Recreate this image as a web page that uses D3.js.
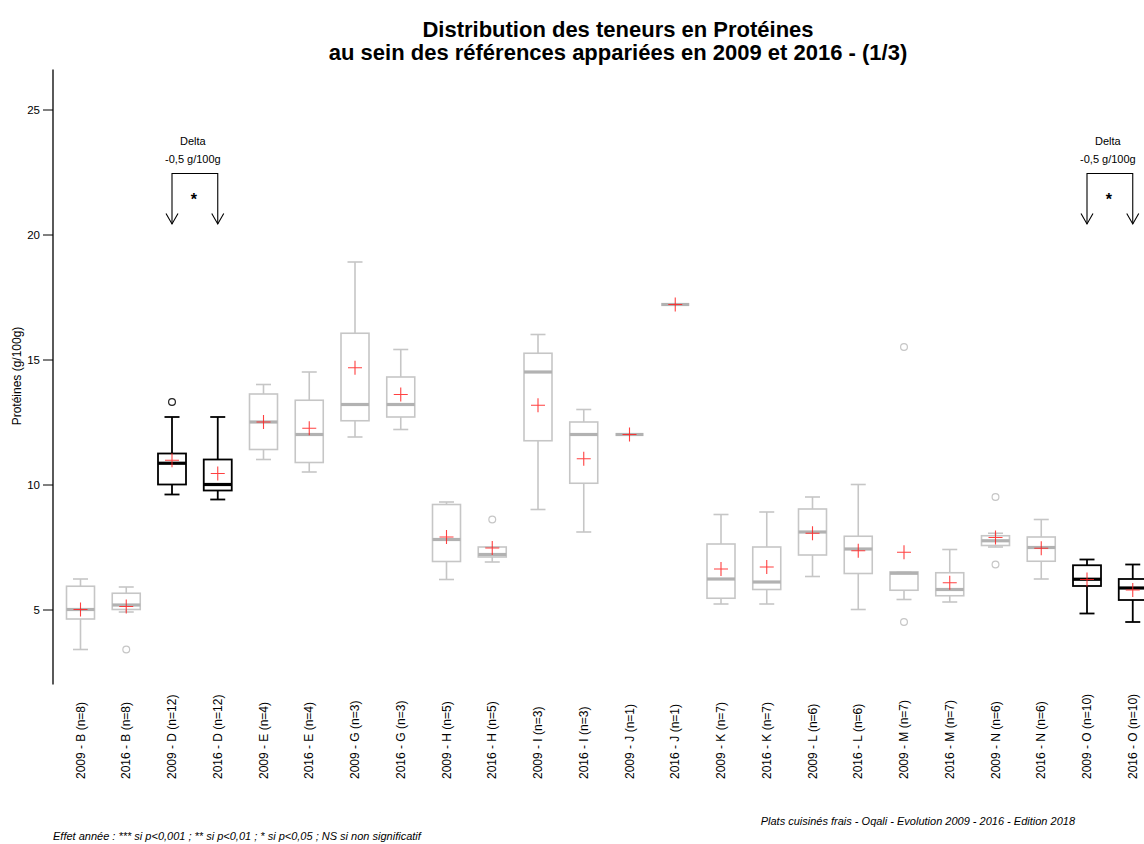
<!DOCTYPE html>
<html>
<head>
<meta charset="utf-8">
<script src="https://cdn.jsdelivr.net/npm/d3@7"></script>
<style>
  html, body { margin: 0; padding: 0; background: #fff; }
  svg { display: block; font-family: "Liberation Sans", Arial, sans-serif; }
</style>
</head>
<body>
<svg id="chart" width="1144" height="844"></svg>
<script>
// Protein content (g/100g) per product family, paired references 2009 vs 2016
const families = ["B","B","D","D","E","E","G","G","H","H","I","I","J","J","K","K","L","L","M","M","N","N","O","O"];
const years    = [2009,2016,2009,2016,2009,2016,2009,2016,2009,2016,2009,2016,2009,2016,2009,2016,2009,2016,2009,2016,2009,2016,2009,2016];
const counts   = [8,8,12,12,4,4,3,3,5,5,3,3,1,1,7,7,6,6,7,7,6,6,10,10];

const whiskerLow  = [3.4, 4.9, 9.6, 9.4, 11.0,10.5,11.9,12.2,6.2, 6.9, 9.0, 8.1, 12.0,17.2,5.22,5.22,6.32,5.0, 5.4, 5.3, 7.5, 6.22,4.84,4.5];
const q1          = [4.62,5.0, 10.0,9.76,11.4,10.88,12.55,12.7,6.92,7.1,11.75,10.05,12.0,17.2,5.45,5.8,7.18,6.44,5.77,5.55,7.56,6.93,5.94,5.38];
const medians     = [5.0, 5.18,10.85,10.0,12.5,12.0,13.2,13.2,7.8, 7.2, 14.5,12.0,12.0,17.2,6.22,6.1, 8.1, 7.42,6.45,5.8, 7.75,7.48,6.21,5.86];
const q3          = [5.93,5.65,11.24,11.0,13.62,13.37,16.05,14.3,9.2,7.5,15.25,12.5,12.0,17.2,7.62,7.5,9.02,7.93,6.5,6.47,7.95,7.9,6.77,6.22];
const whiskerHigh = [6.22,5.9, 12.7,12.7,14.0,14.5,18.9,15.4,9.3, 7.5, 16.0,13.0,12.0,17.2,8.8, 8.9, 9.5, 10.0,6.5, 7.4, 8.05,8.6, 7.0, 6.8];
const means       = [5.0, 5.12,10.97,10.44,12.5,12.25,14.67,13.6,7.9,7.46,13.17,11.03,12.0,17.2,6.62,6.7,8.05,7.35,7.29,6.07,7.88,7.45,6.2,5.78];
const outliers    = [[],[3.4],[13.3],[],[],[],[],[],[],[8.6],[],[],[],[],[],[],[],[],[4.5,15.5],[],[6.8,9.5],[],[],[]];

// Families with a significant year effect (drawn in black)
const signifFamilies = ["D","O"];
const signifDelta    = ["-0,5 g/100g","-0,5 g/100g"];
const signifLevel    = ["*","*"];

const yTicks = [5, 10, 15, 20, 25];

const labels = families.map((f, i) => `${years[i]} - ${f} (n=${counts[i]})`);
const rows = labels.map((lab, i) => ({
  label: lab, family: families[i], year: years[i],
  lo: whiskerLow[i], q1: q1[i], med: medians[i], q3: q3[i], hi: whiskerHigh[i],
  mean: means[i], out: outliers[i], signif: signifFamilies.includes(families[i])
}));

const svg = d3.select("#chart");

const x = d3.scalePoint().domain(labels).range([80.5, 1132.75]);
const y = d3.scaleLinear().domain([2, 26.6]).range([684.5, 69.5]);

const boxHalf = 14, capHalf = 7.5, crossHalf = 7;
const grey = "#c6c6c6", greyMed = "#b2b2b2";

// Title
const title = svg.append("text").attr("text-anchor", "middle")
  .attr("font-weight", "bold").attr("font-size", 22).attr("fill", "#000");
title.append("tspan").attr("x", 618).attr("y", 37).text("Distribution des teneurs en Protéines");
title.append("tspan").attr("x", 618).attr("y", 60).text("au sein des références appariées en 2009 et 2016 - (1/3)");

// Y axis
const yAxis = svg.append("g").attr("transform", "translate(53,0)")
  .call(d3.axisLeft(y).tickValues(yTicks).tickSize(10).tickPadding(3).tickFormat(d3.format("d")));
yAxis.select(".domain").attr("d", `M0,${y.range()[0]}V${y.range()[1]}`).attr("stroke", "#000").attr("stroke-width", 1.3);
yAxis.selectAll(".tick line").attr("stroke", "#000").attr("stroke-width", 1);
yAxis.selectAll(".tick text").attr("font-size", 11.5).attr("fill", "#000")
  .attr("font-family", "Liberation Sans, Arial, sans-serif");

svg.append("text")
  .attr("transform", `translate(21,376) rotate(-90)`)
  .attr("text-anchor", "middle").attr("font-size", 12).attr("fill", "#000")
  .text("Protéines (g/100g)");

// X labels, rotated
svg.append("g").selectAll("text").data(labels).join("text")
  .attr("transform", d => `translate(${x(d) + 4},779) rotate(-90)`)
  .attr("text-anchor", "start").attr("font-size", 12).attr("fill", "#000")
  .text(d => d);

// Boxplots
const boxes = svg.append("g").selectAll("g").data(rows).join("g")
  .attr("transform", d => `translate(${x(d.label)},0)`);

const col = d => d.signif ? "#000" : grey;

// whiskers
boxes.append("line").attr("x1", 0).attr("x2", 0)
  .attr("y1", d => y(d.hi)).attr("y2", d => y(d.q3))
  .attr("stroke", col).attr("stroke-width", d => d.signif ? 1.8 : 1.6);
boxes.append("line").attr("x1", 0).attr("x2", 0)
  .attr("y1", d => y(d.q1)).attr("y2", d => y(d.lo))
  .attr("stroke", col).attr("stroke-width", d => d.signif ? 1.8 : 1.6);
// staples
boxes.selectAll(".cap").data(d => [d.hi, d.lo].map(v => ({v, d}))).join("line")
  .attr("x1", -capHalf).attr("x2", capHalf)
  .attr("y1", e => y(e.v)).attr("y2", e => y(e.v))
  .attr("stroke", e => col(e.d)).attr("stroke-width", e => e.d.signif ? 1.8 : 1.6);
// box
boxes.append("rect")
  .attr("x", -boxHalf).attr("width", boxHalf * 2)
  .attr("y", d => y(d.q3)).attr("height", d => y(d.q1) - y(d.q3))
  .attr("fill", "none").attr("stroke", col).attr("stroke-width", d => d.signif ? 1.8 : 1.6);
// median
boxes.append("line")
  .attr("x1", -boxHalf).attr("x2", boxHalf)
  .attr("y1", d => y(d.med)).attr("y2", d => y(d.med))
  .attr("stroke", d => d.signif ? "#000" : greyMed).attr("stroke-width", 3.2);
// outliers
boxes.selectAll("circle").data(d => d.out.map(v => ({v, d}))).join("circle")
  .attr("cx", 0).attr("cy", e => y(e.v)).attr("r", 3.4)
  .attr("fill", "none").attr("stroke", e => e.d.signif ? "#222" : grey).attr("stroke-width", 1.2);
// mean cross
boxes.append("path")
  .attr("d", d => `M${-crossHalf},${y(d.mean)}H${crossHalf}M0,${y(d.mean) - crossHalf}V${y(d.mean) + crossHalf}`)
  .attr("stroke", "#ff2020").attr("stroke-opacity", 0.85).attr("stroke-width", 1.1).attr("fill", "none");

// Significance brackets
signifFamilies.forEach((fam, k) => {
  const pair = rows.filter(r => r.family === fam);
  const xa = x(pair[0].label), xb = x(pair[1].label), xm = (xa + xb) / 2;
  const g = svg.append("g").attr("stroke", "#000").attr("fill", "none").attr("stroke-width", 1.1);
  g.append("path").attr("d", `M${xa},224V173.5H${xb}V224`);
  [xa, xb].forEach(xx => g.append("path").attr("d", `M${xx - 6},213.5L${xx},224L${xx + 6},213.5`));
  svg.append("text").attr("x", xm - 2).attr("y", 145).attr("text-anchor", "middle")
    .attr("font-size", 11).attr("fill", "#000").text("Delta");
  svg.append("text").attr("x", xm - 2).attr("y", 163).attr("text-anchor", "middle")
    .attr("font-size", 11).attr("fill", "#000").text(signifDelta[k]);
  svg.append("text").attr("x", xm - 1).attr("y", 205).attr("text-anchor", "middle")
    .attr("font-size", 16).attr("font-weight", "bold").attr("fill", "#000").text(signifLevel[k]);
});

// Footers
svg.append("text").attr("x", 1075).attr("y", 825).attr("text-anchor", "end")
  .attr("font-size", 11).attr("font-style", "italic").attr("fill", "#000")
  .text("Plats cuisinés frais - Oqali - Evolution 2009 - 2016 - Edition 2018");
svg.append("text").attr("x", 53).attr("y", 840).attr("text-anchor", "start")
  .attr("font-size", 11).attr("font-style", "italic").attr("fill", "#000")
  .text("Effet année : *** si p<0,001 ; ** si p<0,01 ; * si p<0,05 ; NS si non significatif");
</script>
</body>
</html>
